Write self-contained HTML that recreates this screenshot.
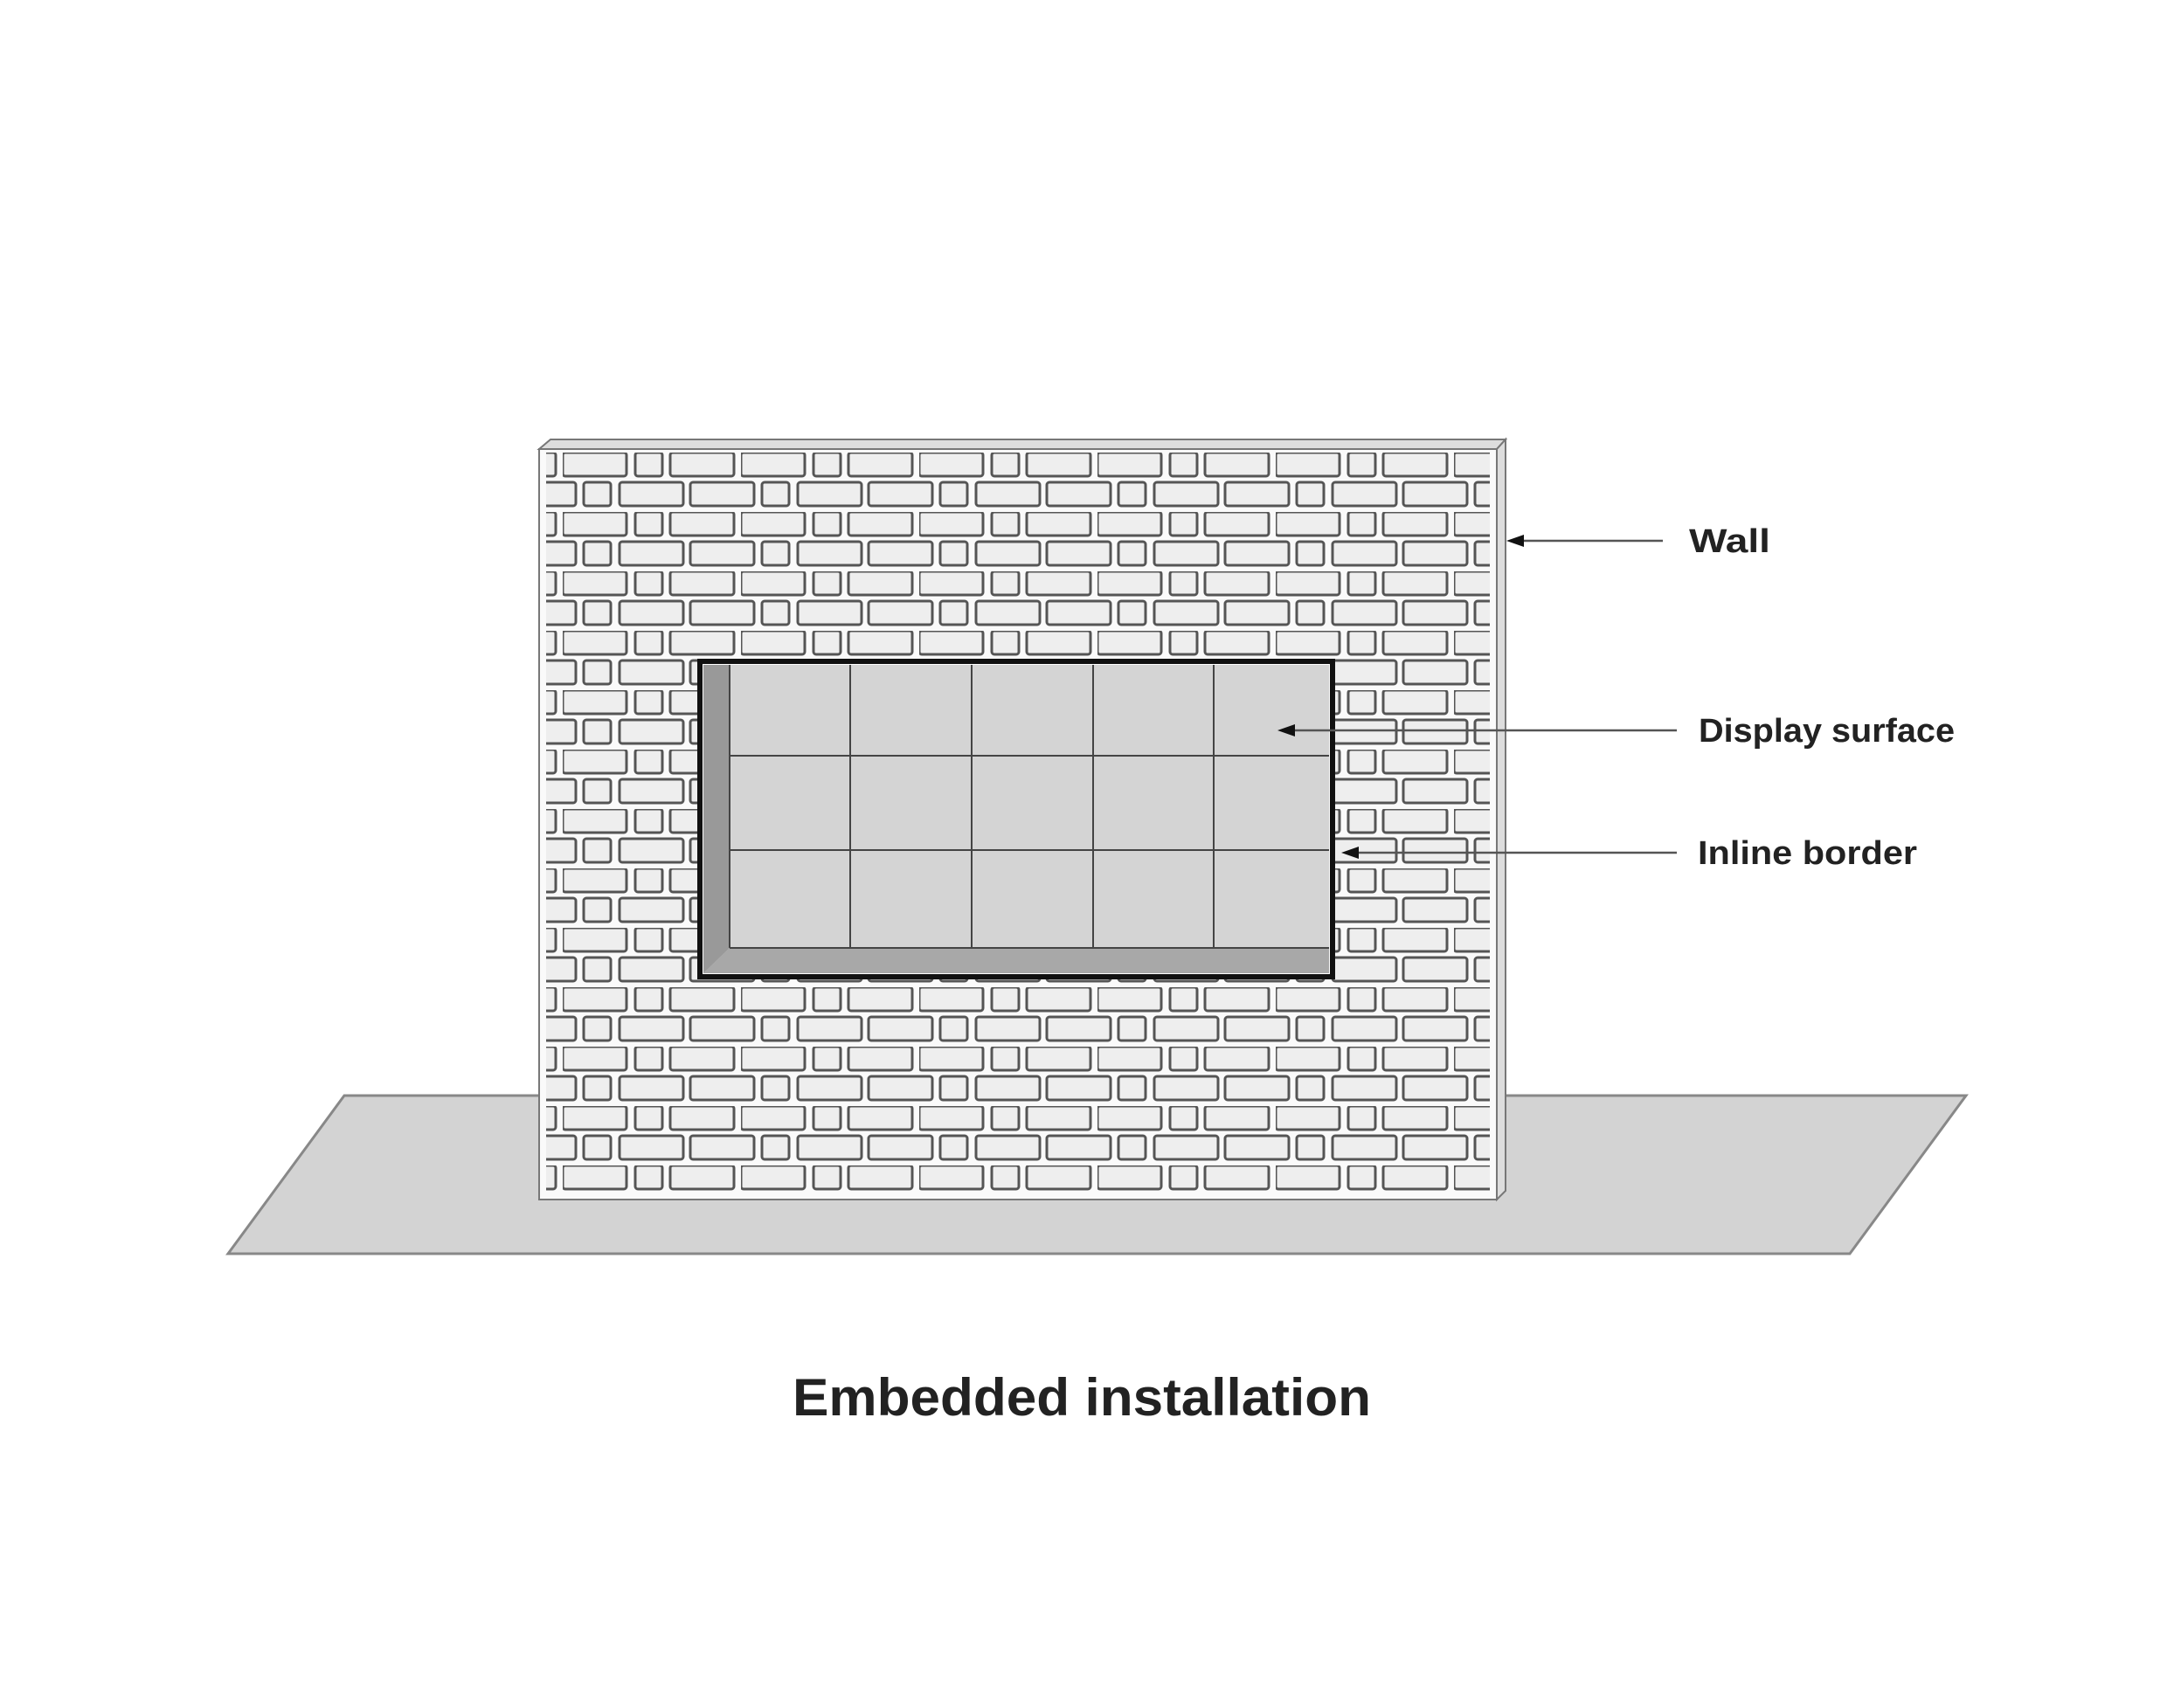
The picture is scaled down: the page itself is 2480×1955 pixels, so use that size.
<!DOCTYPE html>
<html><head><meta charset="utf-8"><style>
html,body{margin:0;padding:0;background:#fff;}
svg{display:block;}
text{font-family:"Liberation Sans",sans-serif;font-weight:bold;fill:#222;}
</style></head><body>
<svg width="2480" height="1955" viewBox="0 0 2480 1955" xmlns="http://www.w3.org/2000/svg">
<defs>
<pattern id="br" patternUnits="userSpaceOnUse" x="644" y="518" width="204" height="68">
<g fill="#eeeeee" stroke="#555" stroke-width="3">
<rect x="0" y="0" width="73" height="27" rx="3"/>
<rect x="83" y="0" width="31" height="27" rx="3"/>
<rect x="123" y="0" width="73" height="27" rx="3"/>
<rect x="24" y="34" width="31" height="27" rx="3"/>
<rect x="65" y="34" width="73" height="27" rx="3"/>
<rect x="146" y="34" width="73" height="27" rx="3"/>
<rect x="-58" y="34" width="73" height="27" rx="3"/>
</g>
</pattern>
</defs>
<polygon points="394,1254 2250,1254 2117,1435 261,1435" fill="#d3d3d3" stroke="#888" stroke-width="3"/>
<polygon points="617,514 630,503 1723,503 1713,514" fill="#ddd" stroke="#777" stroke-width="2"/>
<polygon points="1713,514 1723,503 1723,1363 1713,1373" fill="#ddd" stroke="#777" stroke-width="2"/>
<rect x="617" y="514" width="1096" height="859" fill="#fafafa" stroke="#777" stroke-width="2"/>
<rect x="625" y="514" width="1080" height="849" fill="url(#br)"/>
<rect x="799" y="755" width="728" height="365" fill="#fff"/>
<rect x="805" y="761" width="716" height="353" fill="#d4d4d4"/>
<polygon points="805,761 835,761 835,1085 805,1114" fill="#999"/>
<polygon points="805,1114 835,1085 1521,1085 1521,1114" fill="#a8a8a8"/>
<g stroke="#444" stroke-width="2">
<line x1="973" y1="761" x2="973" y2="1085"/>
<line x1="1112" y1="761" x2="1112" y2="1085"/>
<line x1="1251" y1="761" x2="1251" y2="1085"/>
<line x1="1389" y1="761" x2="1389" y2="1085"/>
<line x1="835" y1="865" x2="1521" y2="865"/>
<line x1="835" y1="973" x2="1521" y2="973"/>
<line x1="835" y1="1085" x2="1521" y2="1085"/>
<line x1="835" y1="761" x2="835" y2="1085"/>
</g>
<rect x="801" y="757" width="724" height="361" fill="none" stroke="#111" stroke-width="6"/>
<g stroke="#555" stroke-width="2.5">
<line x1="1903" y1="619" x2="1735" y2="619"/>
<line x1="1919" y1="836" x2="1480" y2="836"/>
<line x1="1919" y1="976" x2="1550" y2="976"/>
</g>
<g fill="#111">
<polygon points="1724,619 1744,612 1744,626"/>
<polygon points="1462,836 1482,829 1482,843"/>
<polygon points="1535,976 1555,969 1555,983"/>
</g>
<text x="1933" y="632" font-size="38" textLength="93" lengthAdjust="spacingAndGlyphs">Wall</text>
<text x="1944" y="849" font-size="38" textLength="293" lengthAdjust="spacingAndGlyphs">Display surface</text>
<text x="1943" y="989" font-size="38" textLength="251" lengthAdjust="spacingAndGlyphs">Inline border</text>
<text x="907" y="1620" font-size="60" textLength="662" lengthAdjust="spacingAndGlyphs">Embedded installation</text>
</svg>
</body></html>
